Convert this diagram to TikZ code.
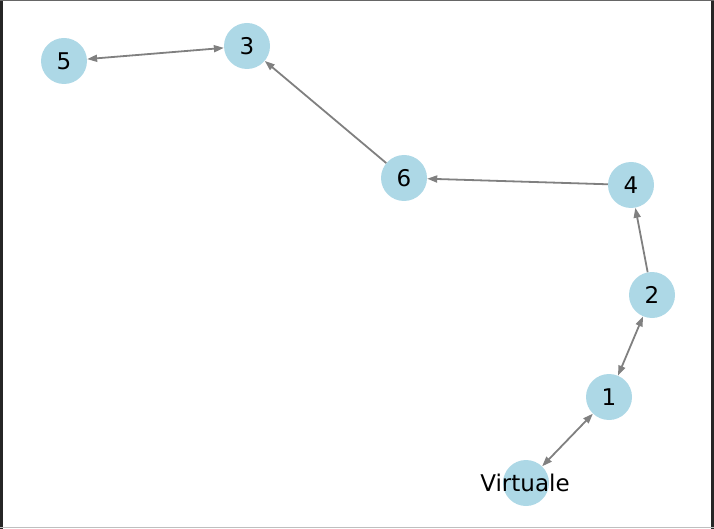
\documentclass[tikz,border=0pt]{standalone}
\usepackage{fontspec}
\setmainfont{DejaVu Sans}
\usetikzlibrary{arrows.meta}
\definecolor{nodeblue}{HTML}{ADD8E6}
\definecolor{edgegray}{HTML}{808080}
\tikzset{
  vertex/.style={circle, fill=nodeblue, draw=none, minimum size=46pt, inner sep=0pt},
  vlabel/.style={font=\fontsize{23}{27}\selectfont, text=black, inner sep=0pt},
  tip/.style={Triangle[length=10pt,width=7pt]},
  link/.style={draw=edgegray, line width=1.8pt, -{Triangle[length=10pt,width=7pt]}},
  bilink/.style={draw=edgegray, line width=1.8pt, {Triangle[length=10pt,width=7pt]}-{Triangle[length=10pt,width=7pt]}}
}
\begin{document}
\begin{tikzpicture}[x=1pt, y=-1pt]
  \useasboundingbox (0,0) rectangle (714,529);
  % axes frame
  \draw[line width=2.5pt, black!85] (1.5,0) -- (1.5,529);
  \draw[line width=2.5pt, black!85] (712.5,0) -- (712.5,529);
  \draw[line width=1pt, black!60] (0,0.5) -- (714,0.5);
  \draw[line width=1.2pt, black!25] (0,527.5) -- (714,527.5);

  % vertices
  \node[vertex, label={[vlabel]center:5}] (n5) at (64,61) {};
  \node[vertex, label={[vlabel]center:3}] (n3) at (247,46) {};
  \node[vertex, label={[vlabel]center:6}] (n6) at (404,178) {};
  \node[vertex, label={[vlabel]center:4}] (n4) at (631,185) {};
  \node[vertex, label={[vlabel]center:2}] (n2) at (652,295) {};
  \node[vertex, label={[vlabel]center:1}] (n1) at (609,397) {};
  \node[vertex] (nv) at (526,483) {};

  % edges
  \draw[bilink] (n5) -- (n3);
  \draw[link] (n6) -- (n3);
  \draw[link] (n4) -- (n6);
  \draw[link] (n2) -- (n4);
  \draw[bilink] (n2) -- (n1);
  \draw[bilink] (n1) -- (nv);

  \node[vlabel] (tv) at ([xshift=-1pt]nv.center) {Virtuale};
\end{tikzpicture}
\end{document}
